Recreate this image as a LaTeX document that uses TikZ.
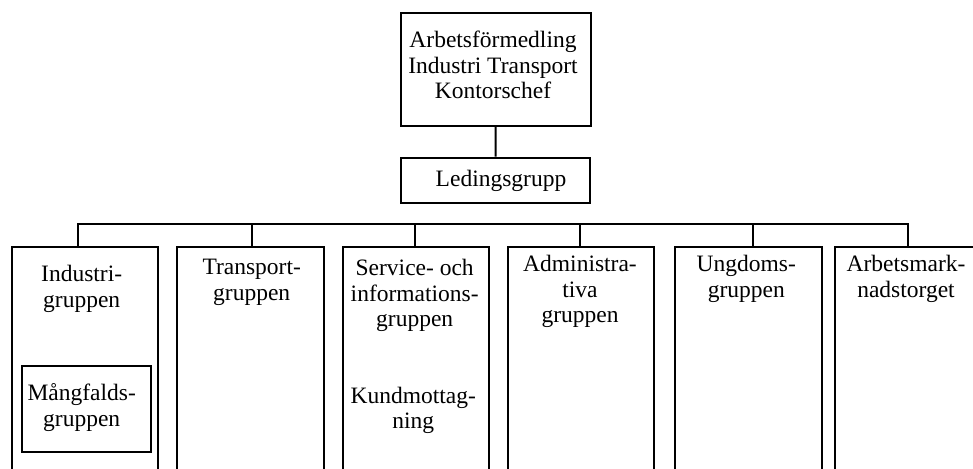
\documentclass[tikz,border=0pt]{standalone}
\usepackage{fontspec}
\setmainfont{Liberation Serif}
\usetikzlibrary{positioning}

\begin{document}
\begin{tikzpicture}[
  x=1pt, y=-1pt,
  font=\fontsize{23.5}{25.5}\selectfont,
  line width=2pt,
  head/.style={rectangle, draw, minimum width=190pt, minimum height=112pt, inner sep=0pt},
  lead/.style={rectangle, draw, minimum width=189pt, minimum height=45.6pt, inner sep=0pt},
  col/.style={rectangle, draw, minimum width=146.6pt, minimum height=240pt,
              anchor=north, inner sep=0pt},
  sub/.style={rectangle, draw, minimum width=128.7pt, minimum height=86pt, inner sep=0pt},
  ttl/.style={align=center, anchor=north, inner sep=0pt}
]
\clip (0,0) rectangle (973,468);
%% top
\node[head] (chef)   at (495.7,69.5) {};
\node[ttl]  (chef_t) at (493,30) {Arbetsförmedling\\Industri Transport\\Kontorschef};
\node[lead] (lg)     at (495.5,180.5) {};
\node[anchor=base, inner sep=0pt] (lg_t) at (501,186.7) {Ledingsgrupp};
\draw (chef.south) -- (lg.north);
%% columns
\node[col] (c1) at (85,246) {};
\node[col] (c2) at (250.3,246) {};
\node[col] (c3) at (416,246) {};
\node[col] (c4) at (580.8,246) {};
\node[col] (c5) at (748.3,246) {};
\node[col] (c6) at (908,246) {};
%% column titles
\node[ttl] (c1_t) at (81.7,264.3)  {Industri-\\gruppen};
\node[ttl] (c2_t) at (251.7,258.6) {Transport-\\gruppen};
\node[ttl] (c3_t) at (414.7,258.6) {Service- och\\informations-\\gruppen};
\node[ttl] (c4_t) at (580,254.3)   {Administra-\\tiva\\gruppen};
\node[ttl] (c5_t) at (746.3,254.3) {Ungdoms-\\gruppen};
\node[ttl] (c6_t) at (906,254.3)   {Arbetsmark-\\nadstorget};
%% inner units
\node[sub] (mf)   at (86.7,408.7) {};
\node[ttl] (mf_t) at (81.7,382.6) {Mångfalds-\\gruppen};
\node[ttl] (km_t) at (413.3,386)  {Kundmottag-\\ning};
%% bus
\coordinate (b1) at (78,224);
\coordinate (b2) at (252,224);
\coordinate (b3) at (414.7,224);
\coordinate (b4) at (580,224);
\coordinate (b5) at (753.3,224);
\coordinate (b6) at (908,224);
\draw (b1 |- c1.north) -- (b1) -- (b6) -- (b6 |- c6.north);
\foreach \i in {2,...,5}
  \draw (b\i) -- (b\i |- c\i.north);
\end{tikzpicture}
\end{document}
